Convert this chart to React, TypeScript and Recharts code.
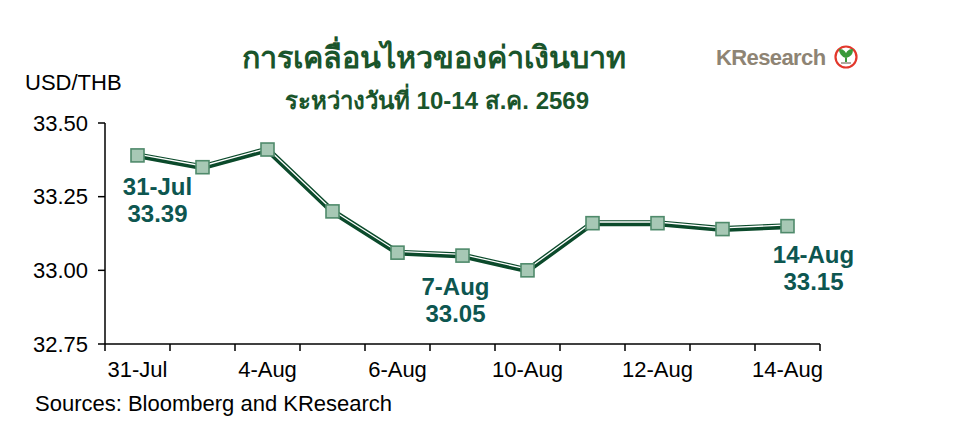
import { LineChart, Line, XAxis, YAxis, LabelList } from 'recharts'

const categories = ['31-Jul', '3-Aug', '4-Aug', '5-Aug', '6-Aug', '7-Aug', '10-Aug', '11-Aug', '12-Aug', '13-Aug', '14-Aug']
const usdThb = [33.39, 33.35, 33.41, 33.2, 33.06, 33.05, 33.0, 33.16, 33.16, 33.14, 33.15]
const yTicks = [32.75, 33.0, 33.25, 33.5]
const labelledIdx = [0, 2, 4, 6, 8, 10]
const boundaryTicks = categories.map((_, i) => i - 0.5).concat([categories.length - 0.5])

const data = categories.map((c, i) => ({ i, date: c, v: usdThb[i] }))

const FONT = '"Liberation Sans", Arial, sans-serif'
const DARK = '#0b4a2b'
const NOTE = '#0d5650'

// date/value callouts under some of the points: [index, dx, dy]
const callouts: [number, number, number][] = [
  [0, 20, 31],
  [5, -7, 31],
  [10, 26, 28],
]

function Square(props: any) {
  const { cx, cy, index } = props
  if (cx == null || cy == null) return null
  return <rect key={index} x={cx - 6.5} y={cy - 6.5} width={13} height={13} fill="#a7c8b5" stroke="#4f8a6b" strokeWidth={1.6} />
}

function Callout(props: any) {
  const { x, y, index } = props
  const c = callouts.find((k) => k[0] === index)
  if (!c) return null
  const cx = x + c[1]
  return (
    <g fontFamily={FONT} fontWeight="bold" fontSize={24} fill={NOTE} textAnchor="middle">
      <text x={cx} y={y + c[2]} dominantBaseline="central">{categories[index]}</text>
      <text x={cx} y={y + c[2] + 27} dominantBaseline="central">{usdThb[index].toFixed(2)}</text>
    </g>
  )
}

export default function App() {
  return (
    <div style={{ position: 'absolute', left: 0, top: 0, width: 960, height: 445, background: '#fff' }}>
      <style>{`.hl { transform: translate(0px, -1.2px); }`}</style>
      <LineChart width={960} height={445} data={data} margin={{ top: 123, right: 140, bottom: 60, left: 0 }}>
        <YAxis
          type="number"
          domain={[32.75, 33.5]}
          ticks={yTicks}
          interval={0}
          width={105}
          tickFormatter={(v: number) => v.toFixed(2)}
          axisLine={{ stroke: '#000', strokeWidth: 1.5 }}
          tickLine={{ stroke: '#000', strokeWidth: 1.5 }}
          tickSize={7}
          tickMargin={10}
          tick={{ fill: '#000', fontSize: 22, fontFamily: FONT }}
        />
        <XAxis
          xAxisId="a"
          type="number"
          dataKey="i"
          domain={[-0.5, 10.5]}
          ticks={boundaryTicks}
          interval={0}
          height={1}
          tickFormatter={() => ''}
          axisLine={{ stroke: '#000', strokeWidth: 1.5 }}
          tickLine={{ stroke: '#000', strokeWidth: 1.5 }}
          tickSize={7}
        />
        <XAxis
          xAxisId="b"
          type="number"
          dataKey="i"
          domain={[-0.5, 10.5]}
          ticks={labelledIdx}
          interval={0}
          height={40}
          tickFormatter={(i: number) => categories[i]}
          axisLine={false}
          tickLine={false}
          tickSize={0}
          tickMargin={16}
          tick={{ fill: '#000', fontSize: 22, fontFamily: FONT }}
        />
        <Line xAxisId="a" dataKey="v" stroke={DARK} strokeWidth={6} dot={false} isAnimationActive={false} />
        <Line xAxisId="a" dataKey="v" className="hl" stroke="#fff" strokeWidth={1.3} dot={false} isAnimationActive={false} />
        <Line xAxisId="a" dataKey="v" stroke="none" dot={<Square />} isAnimationActive={false}>
          <LabelList dataKey="v" content={<Callout />} />
        </Line>
        <text x={434} y={57} textAnchor="middle" dominantBaseline="central" fontFamily={FONT} fontWeight="bold" fontSize={30.5} fill="#1a552b">
          การเคลื่อนไหวของค่าเงินบาท
        </text>
        <text x={437} y={100} textAnchor="middle" dominantBaseline="central" fontFamily={FONT} fontWeight="bold" fontSize={24} fill="#1a552b">
          ระหว่างวันที่ 10-14 ส.ค. 2569
        </text>
        <text x={25} y={82} dominantBaseline="central" fontFamily={FONT} fontSize={22} fill="#000">
          USD/THB
        </text>
        <text x={35} y={403} dominantBaseline="central" fontFamily={FONT} fontSize={22} fill="#000">
          Sources: Bloomberg and KResearch
        </text>
        <text x={716} y={57} dominantBaseline="central" fontFamily={FONT} fontWeight="bold" fontSize={22} fill="#8e8474" letterSpacing={-0.6}>
          KResearch
        </text>
        <g>
          <circle cx={846} cy={57} r={10.5} fill="#fff" stroke="#e2382c" strokeWidth={2.2} />
          <path d="M846 62 L846 56 M846 57 C842 56 840 52 840 50 C843 50 846 53 846 57 C846 53 849 50 852 50 C852 53 850 56 846 57" stroke="#3a9a3a" strokeWidth={2} fill="#3a9a3a" />
          <rect x={841} y={62} width={10} height={2} fill="#b0aaa0" />
        </g>
      </LineChart>
    </div>
  )
}
